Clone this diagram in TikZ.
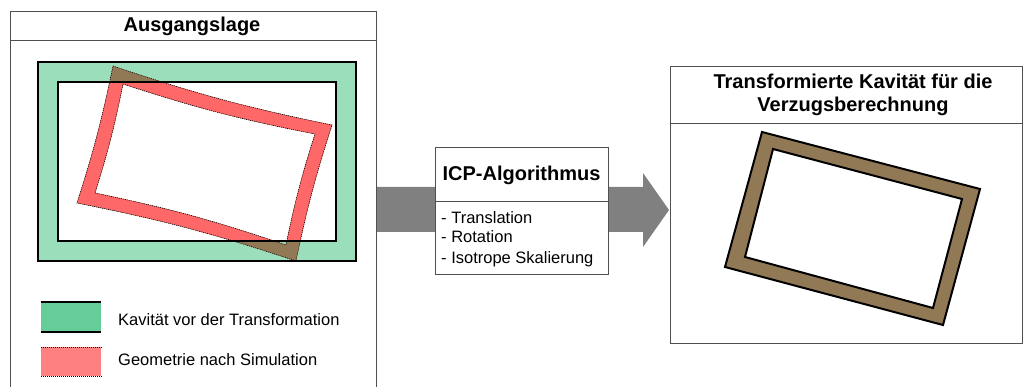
\documentclass[tikz,border=0pt]{standalone}
\usepackage{fontspec}
\setmainfont{Liberation Sans}
\definecolor{ringgreen}{RGB}{154,222,187}
\definecolor{keygreen}{RGB}{102,204,153}
\definecolor{simred}{RGB}{255,104,104}
\definecolor{keyred}{RGB}{255,128,128}
\definecolor{overlap}{RGB}{146,121,86}
\definecolor{arrowgrey}{RGB}{128,128,128}
\definecolor{framegrey}{RGB}{80,80,80}
\tikzset{
	frame/.style={draw=framegrey, line width=0.8pt},
	heading/.style={font=\fontsize{20}{23}\selectfont\bfseries, inner sep=0pt, align=center},
	legtext/.style={font=\fontsize{16.5}{20}\selectfont, inner sep=0pt, anchor=base west},
	cavity/.style={line width=2pt},
	simline/.style={line width=0.6pt, dash pattern=on 1pt off 1pt},
	simouter/.style={insert path={(113,66) to[bend right=3.5] (332,125) to[bend right=3] (296,261) to[bend right=3.5] (77,203) to[bend right=3] (113,66) -- cycle}},
	siminner/.style={insert path={(123,84) to[bend right=3.5] (315,134) to[bend right=3] (286,245) to[bend right=3.5] (95,193) to[bend right=3] (123,84) -- cycle}}
}
\begin{document}
\begin{tikzpicture}[x=1pt,y=-1pt]
	\useasboundingbox (0,0) rectangle (1024,387);
		\draw[frame] (10,387) -- (10,11) -- (376,11) -- (376,387);
		\draw[frame] (10,40) -- (376,40);
		\node[heading, anchor=base] (start) at (192,32) {Ausgangslage};
		\fill[ringgreen, even odd rule] (38,62) rectangle (356,261) (58,82) rectangle (336,241);
		\fill[simred, even odd rule, simouter, siminner];
		\begin{scope}
			\clip (38,62) rectangle (356,261);
			\fill[overlap, even odd rule, simouter, siminner];
		\end{scope}
		\begin{scope}
			\clip (58,82) rectangle (336,241);
			\fill[simred, even odd rule, simouter, siminner];
		\end{scope}
		\draw[simline, simouter];
		\draw[simline, siminner];
		\draw[cavity] (38,62) rectangle (356,261);
		\draw[cavity] (58,82) rectangle (336,241);
		\node[fill=keygreen, minimum width=60, minimum height=30, inner sep=0pt, anchor=north west] (keycav) at (41,302) {};
		\draw[cavity] (keycav.north west) -- (keycav.north east);
		\draw[cavity] (keycav.south west) -- (keycav.south east);
		\node[legtext] (keycavtext) at (118,325) {Kavität vor der Transformation};
		\node[fill=keyred, minimum width=60, minimum height=29, inner sep=0pt, anchor=north west] (keysim) at (41,347) {};
		\draw[simline] (keysim.north west) -- (keysim.north east);
		\draw[simline] (keysim.south west) -- (keysim.south east);
		\node[legtext] (keysimtext) at (118,365) {Geometrie nach Simulation};
		\fill[arrowgrey] (377,187) -- (643,187) -- (643,173) -- (669,210) -- (643,247) -- (643,232) -- (377,232) -- cycle;
		\node[frame, fill=white, minimum width=173, minimum height=127, inner sep=0pt, anchor=north west] (icp) at (435,147) {};
		\draw[frame] (435,201) -- (608,201);
		\node[heading, anchor=base] (icptitle) at (521.5,181) {ICP-Algorithmus};
		\node[legtext] (trans) at (441,223) {- Translation};
		\node[legtext] (rot) at (441,243) {- Rotation};
		\node[legtext] (scale) at (441,263) {- Isotrope Skalierung};
		\draw[frame] (670,66) rectangle (1022,343);
		\draw[frame] (670,123) -- (1022,123);
		\node[heading] (result) at (853,95) {Transformierte Kavität für die\\Verzugsberechnung};
		\fill[overlap, even odd rule] (762,132) -- (980,189) -- (943,325) -- (725,267) -- cycle (773,149) -- (962,199) -- (933,308) -- (745,257) -- cycle;
		\draw[cavity] (762,132) -- (980,189) -- (943,325) -- (725,267) -- cycle;
		\draw[cavity] (773,149) -- (962,199) -- (933,308) -- (745,257) -- cycle;
	\end{tikzpicture}
\end{document}
